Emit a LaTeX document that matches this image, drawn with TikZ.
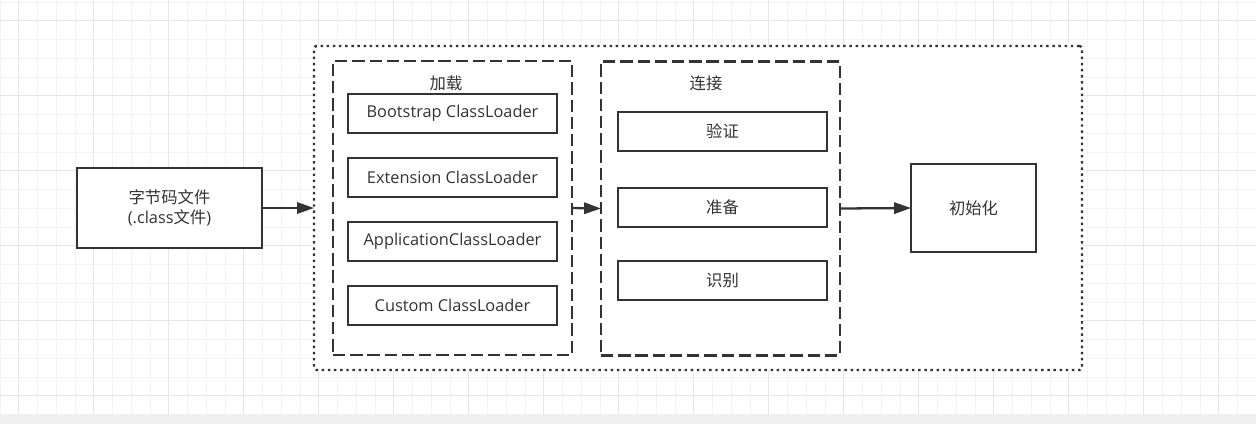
\documentclass[tikz,border=0pt]{standalone}
\usepackage{fontspec}
\setmainfont{Open Sans}
\newfontfamily\cjk{Noto Sans CJK SC}
\usetikzlibrary{arrows.meta}
\definecolor{linegray}{HTML}{333333}
\definecolor{gridminor}{HTML}{F3F3F3}
\definecolor{gridmajor}{HTML}{E6E6E6}
\definecolor{stripgray}{HTML}{F0F0F0}
\newcommand\pxu{0.02cm}

\begin{document}
\begin{tikzpicture}[x=0.02cm,y=-0.02cm,
  every node/.style={inner sep=0pt,outer sep=0pt,text=linegray,font=\fontsize{9.3}{11.3}\selectfont},
  block/.style={draw=linegray,line width=1.3pt,fill=white,align=center},
  group/.style={draw=linegray,line width=1.3pt,dash pattern=on 7pt off 2.8pt},
  stage/.style={draw=linegray,line width=1.3pt,dash pattern=on 1.4pt off 2.1pt,rounded corners=1.5pt,fill=white},
  flow/.style={draw=linegray,line width=1.3pt,-{Triangle[length=9.6pt,width=6.4pt]}}]
\useasboundingbox (0,0) rectangle (1256,424);
\fill [white] (0,0) rectangle (1256,414);
\foreach \i in {0,...,67}
  \draw [gridminor,line width=0.57pt] (\i*18.75,0) -- (\i*18.75,414);
\foreach \j in {0,...,22}
  \draw [gridminor,line width=0.57pt] (0,2+\j*18.75) -- (1256,2+\j*18.75);
\foreach \i in {1,5,...,65}
  \draw [gridmajor,line width=0.57pt] (\i*18.75,0) -- (\i*18.75,414);
\foreach \j in {1,5,...,21}
  \draw [gridmajor,line width=0.57pt] (0,2+\j*18.75) -- (1256,2+\j*18.75);
\fill [stripgray] (0,414) rectangle (1256,424);

\node [block,minimum width=185*\pxu,minimum height=80*\pxu] (classfile) at (169.5,208) {{\cjk 字节码文件}\\(.class{\cjk 文件})};
\node [stage,minimum width=768*\pxu,minimum height=324*\pxu] (stages) at (698,208) {};
\node [group,minimum width=239*\pxu,minimum height=294*\pxu] (loading) at (452.5,208) {};
\node [group,minimum width=239*\pxu,minimum height=294*\pxu] (linking) at (720.5,208.5) {};
\node [block,minimum width=125*\pxu,minimum height=88*\pxu] (init) at (973.5,208) {\cjk 初始化};

\node (loadlabel) at (446,83) {\cjk 加载};
\node (linklabel) at (706,83) {\cjk 连接};

\node [block,minimum width=209*\pxu,minimum height=39*\pxu] (boot) at (452.5,113.5) {Bootstrap ClassLoader};
\node [block,minimum width=209*\pxu,minimum height=39*\pxu] (ext) at (452.5,177.5) {Extension ClassLoader};
\node [block,minimum width=209*\pxu,minimum height=39*\pxu] (app) at (452.5,241.5) {ApplicationClassLoader};
\node [block,minimum width=209*\pxu,minimum height=39*\pxu] (custom) at (452.5,305.5) {Custom ClassLoader};

\node [block,minimum width=209*\pxu,minimum height=39*\pxu] (verify) at (722.5,131.5) {\cjk 验证};
\node [block,minimum width=209*\pxu,minimum height=39*\pxu] (prepare) at (722.5,207.5) {\cjk 准备};
\node [block,minimum width=209*\pxu,minimum height=39*\pxu] (ident) at (722.5,280.5) {\cjk 识别};

\draw [flow] (classfile.east) -- (stages.west);
\draw [flow] (loading.east) -- (linking.west);
\draw [flow] (linking.east) -- (init.west);
\end{tikzpicture}
\end{document}
